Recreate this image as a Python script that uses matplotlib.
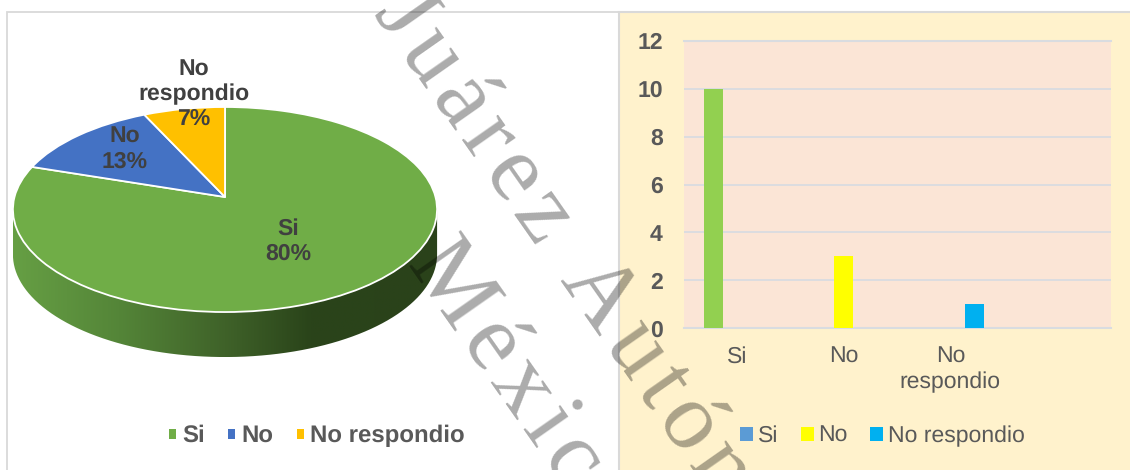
import numpy as np
import matplotlib
matplotlib.use("Agg")
import matplotlib.pyplot as plt
from matplotlib.transforms import Transform
from matplotlib.patches import Patch, PathPatch, Rectangle
from matplotlib.path import Path
from matplotlib.colors import LinearSegmentedColormap

plt.rcParams['font.family'] = ['Liberation Sans', 'DejaVu Sans']
plt.rcParams['text.hinting'] = 'no_hinting'
plt.rcParams['text.hinting_factor'] = 1

# ---- data ----
pie_labels = ["Si", "No", "No\nrespondio"]
pie_percent = [80, 13, 7]
legend_labels = ["Si", "No", "No respondio"]
bar_categories = ["Si", "No", "No\nrespondio", ""]
bar_si = [10, 0, 0, 0]
bar_no = [0, 3, 0, 0]
bar_nr = [0, 0, 1, 0]
y_ticks = [0, 2, 4, 6, 8, 10, 12]
watermark_lines = ["Juárez Autón", "Méxic"]

# ---- style ----
W, H = 1130, 470
PIE_COLORS = ["#70AD47", "#4472C4", "#FFC000"]
BAR_COLORS = ["#92D050", "#FFFF00", "#00B0F0"]
BAR_LEGEND = ["#5B9BD5", "#FFFF00", "#00B0F0"]
DARK = "#404040"
GREY = "#595959"


class Tilt(Transform):
    """Perspective view of the unit pie, in pixels of the background axes."""
    input_dims = 2
    output_dims = 2
    is_separable = False
    has_inverse = False
    cx, cy, bx, by, k = 225.0, 197.0, 210.5, 101.0, 0.122

    def transform_non_affine(self, xy):
        xy = np.asarray(xy, dtype=float)
        d = 1 + self.k * xy[:, 1]
        return np.column_stack([self.cx + self.bx * xy[:, 0] / d,
                                self.cy - self.by * xy[:, 1] / d])


fig = plt.figure(figsize=(W / 100, H / 100), dpi=100, facecolor="white")

# background axes in pixel units, holding the pie
ax = fig.add_axes([0, 0, 1, 1])
wedges, _ = ax.pie(pie_percent, colors=PIE_COLORS, startangle=90, counterclock=False,
                   wedgeprops=dict(edgecolor="white", linewidth=1.3, zorder=5))
ax.set_aspect("auto")
ax.set_xlim(0, W)
ax.set_ylim(H, 0)
ax.axis("off")
tilt = Tilt()
for w in wedges:
    w.set_transform(tilt + ax.transData)

# frames
ax.add_patch(Rectangle((6.5, 12), 612, 470, fc="white", ec="#D9D9D9", lw=1.3, zorder=0))
ax.add_patch(Rectangle((618.5, 12), 600, 470, fc="#FFF2CC", ec="#D9D9D9", lw=1.5, zorder=1))

# side wall of the pie, with a horizontal shade
DEPTH = 45
t = np.linspace(0, 2 * np.pi, 360)
rim = tilt.transform_non_affine(np.column_stack([np.cos(t), np.sin(t)]))
left, right = rim[:, 0].argmin(), rim[:, 0].argmax()
rim_low = rim + [0, DEPTH]
lower = rim_low[rim_low[:, 1] >= rim_low[[left, right], 1].min() - 0.5]
lower = lower[np.argsort(lower[:, 0])]
wall = np.vstack([[rim[left]], lower, [rim[right]], [rim[left]]])
clip = PathPatch(Path(wall), transform=ax.transData, fc="none", ec="none")
ax.add_patch(clip)
shade = LinearSegmentedColormap.from_list(
    "wall", [(0, "#669F44"), (0.25, "#548538"), (0.5, "#3F6229"), (0.7, "#2A441A"), (1, "#2A421A")])
im = ax.imshow(np.linspace(0, 1, 256)[None, :], cmap=shade, aspect="auto", zorder=3,
               extent=(rim[:, 0].min(), rim[:, 0].max(), rim_low[:, 1].max(), rim[left, 1] - 5))
im.set_clip_path(clip)
ax.set_xlim(0, W)
ax.set_ylim(H, 0)

# pie labels
pos = [(288.5, 241), (125, 149), (194, 94.5)]
for lab, pct, (x, y) in zip(pie_labels, pie_percent, pos):
    ax.text(x, y, f"{lab}\n{pct}%", ha="center", va="center", fontsize=16.6,
            fontweight="bold", color=DARK, linespacing=1.2, zorder=6)

# pie legend
h1 = [Patch(fc=c, ec="none") for c in PIE_COLORS]
ax.legend(h1, legend_labels, ncol=3, frameon=False, loc="center left",
          bbox_to_anchor=(169 / W, 1 - 436 / H), prop=dict(size=17, weight="bold"),
          labelcolor=GREY, handlelength=0.3, handleheight=0.3, handletextpad=0.25,
          columnspacing=1.0, borderpad=0, borderaxespad=0)

# bar chart
bx = fig.add_axes([683.5 / W, 1 - 328.3 / H, 427 / W, 287.6 / H], facecolor="#FBE5D6")
x = np.arange(len(bar_categories))
bar_w, off = 0.178, 0.222
for vals, dx, c in zip([bar_si, bar_no, bar_nr], [-off, 0, off], BAR_COLORS):
    bx.bar(x + dx, vals, width=bar_w, color=c, zorder=3)
bx.set_xlim(-0.5, 3.5)
bx.set_ylim(0, 12)
bx.set_yticks(y_ticks)
bx.set_xticks(x)
bx.set_xticklabels(bar_categories, fontsize=16.8, color=GREY, linespacing=1.2)
bx.tick_params(axis="both", length=0)
bx.tick_params(axis="x", pad=13)
bx.tick_params(axis="y", pad=15, labelsize=16.8, labelcolor=GREY)
for lab in bx.get_yticklabels():
    lab.set_fontweight("bold")
bx.grid(axis="y", color="#D9DCE0", lw=1.3, zorder=1)
bx.set_axisbelow(True)
for s in bx.spines.values():
    s.set_visible(False)
for yy in (0, 12):
    bx.axhline(yy, color="#D9DCE0", lw=1.5, clip_on=False, zorder=2)
h2 = [Patch(fc=c, ec="none") for c in BAR_LEGEND]
fig.legend(h2, legend_labels, ncol=3, frameon=False, loc="center left",
           bbox_to_anchor=(740 / W, 1 - 436 / H), prop=dict(size=16.8),
           labelcolor=GREY, handlelength=0.57, handleheight=0.57, handletextpad=0.2,
           columnspacing=0.95, borderpad=0, borderaxespad=0)

# watermark (letter-spaced with hair spaces)
for txt, (px, py) in zip(watermark_lines, [(373, 13), (407, 263)]):
    fig.text(px / W, 1 - py / H, "\u200a".join(txt), rotation=-55, rotation_mode="anchor",
             ha="left", va="baseline", fontsize=69, family=["Liberation Serif", "DejaVu Serif"],
             color="black", alpha=0.33, zorder=10)

fig.savefig("out.png", dpi=100)
